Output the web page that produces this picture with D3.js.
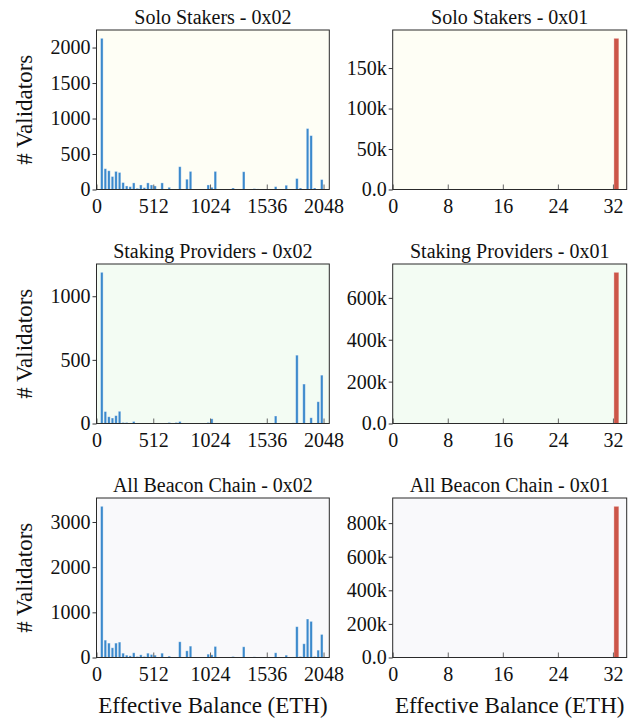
<!DOCTYPE html>
<html><head><meta charset="utf-8">
<script src="https://cdn.jsdelivr.net/npm/d3@7"></script>
<style>
.sf20{font:20px "Liberation Serif", "Times New Roman", Tinos, serif !important;}
.sf23{font:23px "Liberation Serif", "Times New Roman", Tinos, serif !important;}
</style>
</head><body style="margin:0;background:#fff">
<div id="wrap"></div>
<script>
// ---------- data ----------
const groups = ["Solo Stakers", "Staking Providers", "All Beacon Chain"];
const credTypes = ["0x02", "0x01"];

// 0x02 histogram: bin start (ETH), bins of 32 ETH
const bins02 = [32,64,96,128,160,192,224,256,288,320,352,384,416,448,480,512,544,576,608,640,672,704,736,768,800,832,864,896,928,960,992,1024,1056,1088,1120,1152,1184,1216,1248,1280,1312,1344,1376,1408,1440,1472,1504,1536,1568,1600,1632,1664,1696,1728,1760,1792,1824,1856,1888,1920,1952,1984,2016];
const binWidth02 = 32;

const solo02 = [2130,293,264,183,255,240,98,50,40,93,17,64,26,93,64,50,5,93,0,31,3,0,321,0,145,255,4,3,5,6,64,31,255,3,4,2,5,21,2,3,250,2,3,12,8,4,6,3,4,40,3,5,60,4,6,155,21,3,859,759,21,2,140];
const providers02 = [1188,94,53,43,62,96,8,8,2,16,3,3,3,3,3,2,3,3,3,8,3,8,16,0,3,3,3,2,0,2,8,37,2,3,3,0,0,0,0,0,0,0,0,0,0,0,0,0,0,59,0,0,0,3,5,537,0,310,0,45,0,171,380];
const all02 = [3347,385,319,215,319,341,96,52,37,104,22,59,22,96,67,52,8,96,3,30,5,8,348,3,148,252,6,5,5,8,74,59,245,6,7,3,6,22,3,4,237,3,4,15,10,5,7,4,5,104,4,6,52,8,12,682,22,304,852,800,22,163,511];

// 0x01 histogram: bin start (ETH), bins of 1 ETH
const bins01 = [32];
const binWidth01 = 1;
const solo01 = [186700];
const providers01 = [722000];
const all01 = [900000];

const xTicks02 = [0, 512, 1024, 1536, 2048];
const xTicks01 = [0, 8, 16, 24, 32];
const yTicks02 = [[0,500,1000,1500,2000],[0,500,1000],[0,1000,2000,3000]];
const yTicks01 = [[0,50000,100000,150000],[0,200000,400000,600000],[0,200000,400000,600000,800000]];

const xLabel = "Effective Balance (ETH)";
const yLabel = "# Validators";

// ---------- layout / style ----------
const colLeft = [96.5, 392.7];
const colWidth = [232.8, 234];
const rowTop = [30, 264, 498];
const panelH = 159.5;
const xMax = [2100, 34];
const bgColors = ["#fefef5", "#f3fcf3", "#f9f9fb"];
const barColors = ["#3b89cc", "#cc5548"];
const rwidth = 0.72;
const headroom = 1.055;

const svg = d3.select("#wrap").append("svg")
  .attr("width", 631).attr("height", 724).style("display", "block");
const series02 = [solo02, providers02, all02];
const series01 = [solo01, providers01, all01];

function serif(sel, size) {
  sel.attr("class", size === 23 ? "sf23" : "sf20")
     .attr("font-family", "Liberation Serif").attr("font-size", size).attr("fill", "#111");
}

groups.forEach((grp, r) => {
  [0, 1].forEach(c => {
    const vals = c === 0 ? series02[r] : series01[r];
    const bins = c === 0 ? bins02 : bins01;
    const bw = c === 0 ? binWidth02 : binWidth01;
    const w = colWidth[c], h = panelH;
    const g = svg.append("g").attr("transform", `translate(${colLeft[c]},${rowTop[r]})`);

    const x = d3.scaleLinear().domain([0, xMax[c]]).range([0, w]);
    const y = d3.scaleLinear().domain([0, d3.max(vals) * headroom]).range([h, 0]);

    g.append("rect").attr("width", w).attr("height", h).attr("fill", bgColors[r]);

    const data = bins.map((b, i) => ({b, v: vals[i]})).filter(d => d.v > 0);
    g.selectAll("rect.bar").data(data).enter().append("rect")
      .attr("class", "bar")
      .attr("x", d => x(d.b + bw * (1 - rwidth) / 2))
      .attr("width", d => x(d.b + bw * (1 + rwidth) / 2) - x(d.b + bw * (1 - rwidth) / 2))
      .attr("y", d => y(d.v))
      .attr("height", d => h - y(d.v))
      .attr("fill", barColors[c])
      .attr("stroke", "#ffffff").attr("stroke-opacity", 0.45).attr("stroke-width", 0.8);

    // x axis (ticks inward)
    const xa = d3.axisBottom(x).tickValues(c === 0 ? xTicks02 : xTicks01)
      .tickSizeInner(-5).tickSizeOuter(0).tickPadding(9.5).tickFormat(d3.format("d"));
    const gx = g.append("g").attr("transform", `translate(0,${h})`).call(xa);
    gx.attr("font-family", "Liberation Serif").attr("font-size", 20);
    gx.select(".domain").remove();
    gx.selectAll(".tick line").attr("stroke", "#666");
    serif(gx.selectAll(".tick text"), 20);

    // y axis (ticks outward)
    const fmt = c === 0 ? d3.format("d") : (v => v === 0 ? "0.0" : (v / 1000) + "k");
    const ya = d3.axisLeft(y).tickValues(c === 0 ? yTicks02[r] : yTicks01[r])
      .tickSizeInner(4).tickSizeOuter(0).tickPadding(2).tickFormat(fmt);
    const gy = g.append("g").call(ya);
    gy.attr("font-family", "Liberation Serif").attr("font-size", 20);
    gy.select(".domain").remove();
    gy.selectAll(".tick line").attr("stroke", "#333");
    serif(gy.selectAll(".tick text"), 20);

    // frame
    g.append("rect").attr("width", w).attr("height", h)
      .attr("fill", "none").attr("stroke", "#2a2a2a").attr("stroke-width", 1);

    // title
    const t = g.append("text").attr("x", w / 2).attr("y", -6.5).attr("text-anchor", "middle")
      .text(`${grp} - ${credTypes[c]}`);
    serif(t, 20);
  });

  const yl = svg.append("text")
    .attr("transform", `translate(32,${rowTop[r] + panelH / 2}) rotate(-90)`)
    .attr("text-anchor", "middle").text(yLabel);
  serif(yl, 23);
});

[0, 1].forEach(c => {
  const xl = svg.append("text").attr("x", colLeft[c] + colWidth[c] / 2).attr("y", 713)
    .attr("text-anchor", "middle").text(xLabel);
  serif(xl, 23);
});
</script>
</body></html>
